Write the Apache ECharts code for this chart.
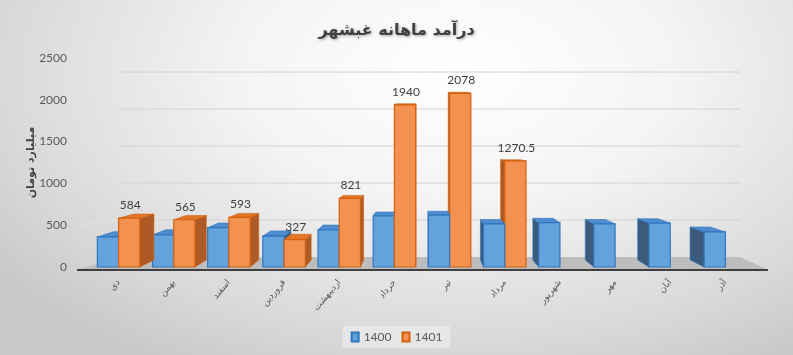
<!DOCTYPE html>
<html><head><meta charset="utf-8">
<script src="https://cdn.jsdelivr.net/npm/echarts@6/dist/echarts.min.js"></script>
<style>
html,body{margin:0;padding:0;}
#c{width:793px;height:355px;background:radial-gradient(ellipse 72% 95% at 58% 20%, #ffffff 0%, #f4f4f4 38%, #d9d9d9 80%, #c9c9c9 100%);}
</style></head><body><div id="c"></div>
<script>
const categories = ['دی','بهمن','اسفند','فروردین','اردیبهشت','خرداد','تیر','مرداد','شهریور','مهر','آبان','آذر'];
const values1400 = [360,385,470,370,445,610,620,515,530,515,525,420];
const values1401 = [584,565,593,327,821,1940,2078,1270.5,null,null,null,null];
const yTicks = [0,500,1000,1500,2000,2500];
const seriesNames = ['1400','1401'];

const palette = [
  {front:'#64a2dc', border:'#2f76c0', top:'#4f8ccf', side:'#3c5b7c'},
  {front:'#f39250', border:'#d3600f', top:'#e27526', side:'#ad5a26'}
];

function makeRender(s){
  return function(params, api){
    const idx = api.value(0), val = api.value(1);
    if (!isFinite(val)) return null;
    const cs = params.coordSys;
    const vx = cs.x + cs.width*0.5;
    const vy = cs.y + 92;
    const catW = api.size([1,0])[0];
    const bw = catW*0.385;
    const c = api.coord([idx, 0]);
    const y0 = api.coord([idx, val])[1];
    const y1 = c[1];
    const x0 = s===0 ? c[0]-bw : c[0];
    const x1 = x0 + bw;
    const bk = (x,y)=>[x + (vx-x)*0.05, Math.min(y-1, y + (vy-y)*0.06)];
    const leftSide = c[0] < vx;
    let base;
    if (leftSide) base = s===0 ? 10 : 20; else base = s===0 ? 20 : 10;
    const p = palette[s];
    const children = [];
    let side;
    if (leftSide) side = [[x1,y0],[x1,y1],bk(x1,y1),bk(x1,y0)];
    else side = [[x0,y0],[x0,y1],bk(x0,y1),bk(x0,y0)];
    children.push({type:'polygon', z2:base, shape:{points:side}, style:{fill:p.side, stroke:p.border, lineWidth:0.6}});
    children.push({type:'polygon', z2:base, shape:{points:[[x0,y0],[x1,y0],bk(x1,y0),bk(x0,y0)]}, style:{fill:p.top, stroke:p.border, lineWidth:0.6}});
    children.push({type:'rect', z2:base+1, shape:{x:x0, y:y0, width:bw, height:y1-y0}, style:{fill:p.front, stroke:p.border, lineWidth:1.2}});
    if (s===1) {
      children.push({type:'text', z2:60, style:{text:String(val), x:(x0+x1)/2+1, y:y0-13, align:'center', verticalAlign:'middle', fill:'#404040', fontSize:12, fontFamily:'Lato'}});
    }
    return {type:'group', children};
  };
}

function renderDecor(params, api){
  const v = api.value(1);
  const cs = params.coordSys;
  const zero = api.coord([0,0])[1];
  const fy = api.coord([0,v])[1];
  const backZero = zero - 10;
  const by = backZero - (zero - fy)*0.885;
  const wallX = cs.x - 14, backL = cs.x + 29, backR = cs.x + cs.width - 13, frontR = cs.x + cs.width + 15;
  const children = [];
  if (v === 0) {
    children.push({type:'polygon', z2:1, shape:{points:[[wallX,zero+3],[frontR,zero+3],[backR,backZero],[backL,backZero]]}, style:{fill:'#bdbdbd'}});
    children.push({type:'line', z2:2, shape:{x1:wallX, y1:zero+3, x2:frontR, y2:zero+3}, style:{stroke:'#3f3f3f', lineWidth:2}});
  } else {
    children.push({type:'line', z2:1, shape:{x1:wallX, y1:fy, x2:backL, y2:by}, style:{stroke:'#e2e2e2', lineWidth:1}});
    children.push({type:'line', z2:1, shape:{x1:backL, y1:by, x2:backR, y2:by}, style:{stroke:'#d3d3d3', lineWidth:1}});
  }
  return {type:'group', children};
}

const chart = echarts.init(document.getElementById('c'), null, {renderer:'canvas'});
chart.setOption({
  backgroundColor:'transparent',
  animation:false,
  title:{
    text:'درآمد ماهانه غبشهر', left:'center', top:18,
    textStyle:{fontFamily:'DejaVu Sans', fontWeight:'bold', fontSize:16, color:'#404040',
      textShadowColor:'rgba(0,0,0,0.35)', textShadowBlur:3, textShadowOffsetX:1, textShadowOffsetY:1}
  },
  legend:{
    data:seriesNames, left:'center', top:326, icon:'rect', itemWidth:7, itemHeight:9, itemGap:10,
    backgroundColor:'rgba(255,255,255,0.35)', padding:[5,8],
    textStyle:{fontFamily:'Lato', fontSize:12, color:'#595959'}
  },
  grid:{left:91, right:40, top:58, bottom:88, containLabel:false},
  xAxis:{
    type:'category', data:categories,
    axisLine:{show:false}, axisTick:{show:false},
    axisLabel:{rotate:50, margin:14, color:'#595959', fontSize:9, fontFamily:'DejaVu Sans', interval:0}
  },
  yAxis:{
    type:'value', min:0, max:2500, interval:500,
    name:'میلیارد تومان', nameLocation:'middle', nameRotate:90, nameGap:54, nameMoveOverlap:false,
    nameTextStyle:{fontFamily:'DejaVu Sans', fontWeight:'bold', fontSize:11, color:'#404040'},
    splitLine:{show:false}, axisLine:{show:false}, axisTick:{show:false},
    axisLabel:{margin:24, color:'#595959', fontSize:12, fontFamily:'Lato', padding:[5,0,0,0],
      formatter:function(v){return String(v);}}
  },
  series:[
    {type:'custom', name:'decor', z:1, silent:true, renderItem:renderDecor,
     data:yTicks.map(v=>[0,v]), encode:{x:0, y:1}},
    {type:'custom', name:seriesNames[0], z:2, renderItem:makeRender(0),
     itemStyle:{color:palette[0].front, borderColor:palette[0].border, borderWidth:1},
     data:values1400.map((v,i)=>[i,v]), encode:{x:0, y:1}},
    {type:'custom', name:seriesNames[1], z:2, renderItem:makeRender(1),
     itemStyle:{color:palette[1].front, borderColor:palette[1].border, borderWidth:1},
     data:values1401.map((v,i)=>[i,v==null?'-':v]), encode:{x:0, y:1}}
  ]
});
</script></body></html>
